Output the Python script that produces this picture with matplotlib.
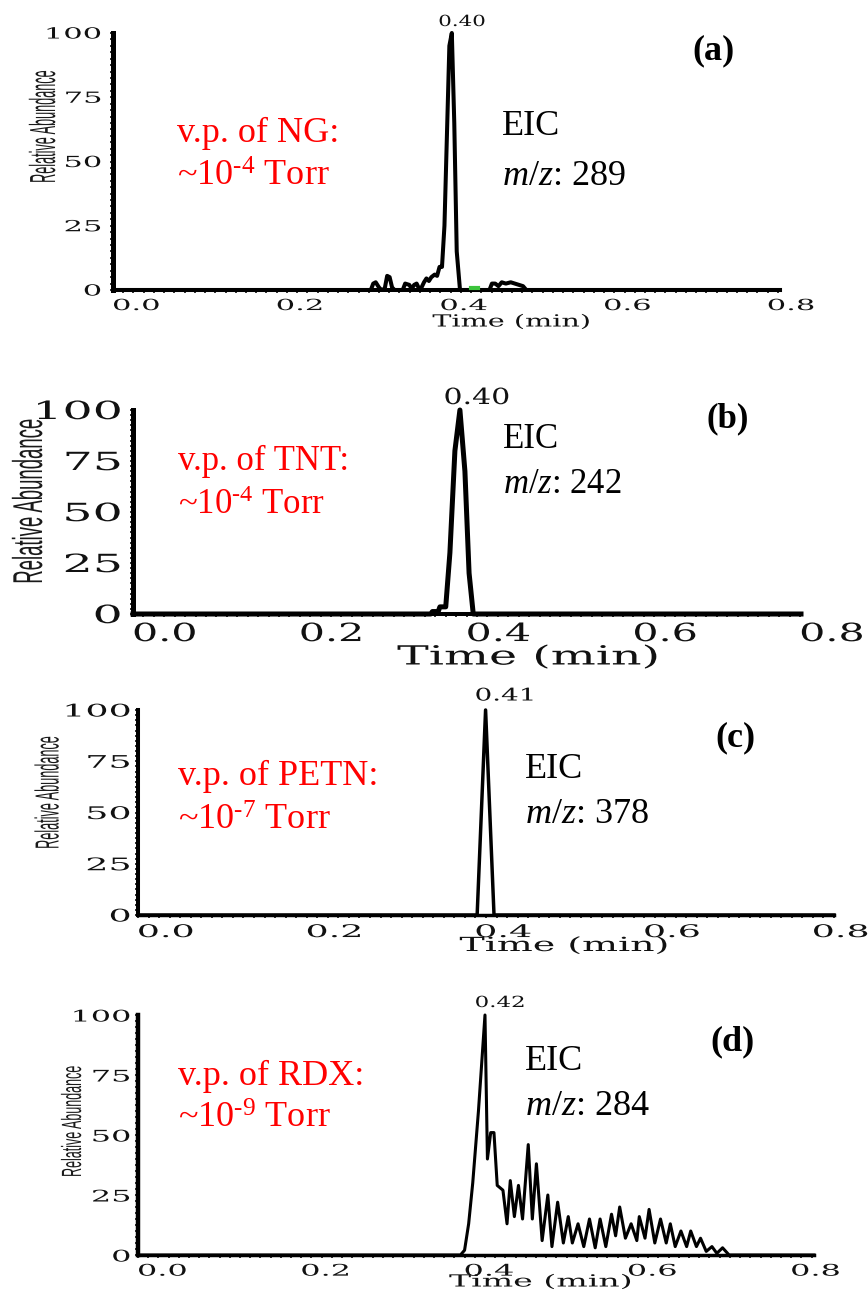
import matplotlib
matplotlib.use("Agg")
import matplotlib.pyplot as plt
import matplotlib.patheffects as pe
from matplotlib.transforms import Affine2D
from matplotlib.ticker import MultipleLocator

plt.rcParams["mathtext.fontset"] = "custom"
plt.rcParams["mathtext.rm"] = "Liberation Serif"
plt.rcParams["mathtext.it"] = "Liberation Serif:italic"

W, H = 868, 1291

# ==========================================================
# DATA
# ==========================================================
time_ticks = [0.0, 0.2, 0.4, 0.6, 0.8]
abund_ticks = [0, 25, 50, 75, 100]

ng_time = [0.0, 0.315, 0.318, 0.321, 0.325, 0.328, 0.332, 0.335, 0.338, 0.341,
           0.344, 0.354, 0.357, 0.362, 0.365, 0.368, 0.371, 0.374, 0.377, 0.380,
           0.383, 0.386, 0.389, 0.393, 0.396, 0.399, 0.402, 0.405, 0.408, 0.411,
           0.414, 0.417, 0.420, 0.424, 0.460, 0.463, 0.467, 0.471, 0.475, 0.480,
           0.486, 0.491, 0.496, 0.501, 0.505, 0.815]
ng_abund = [0, 0, 2.5, 3, 1, 0, 0.5, 5.5, 5, 1,
            0, 0, 2.5, 2, 0.5, 2, 2.5, 0.5, 1, 3,
            4.5, 3.5, 5, 6, 5.5, 9, 9, 25, 60, 95,
            100, 65, 15, 0, 0, 2.5, 2.5, 1.5, 3, 2.5,
            3, 2.5, 2, 1.5, 0, 0]
ng_green_time = [0.437, 0.446]
ng_green_abund = [0.8, 0.8]

tnt_time = [0.0, 0.357, 0.359, 0.366, 0.368, 0.375, 0.380, 0.386, 0.392, 0.398,
            0.403, 0.408, 0.801]
tnt_abund = [0, 0, 1.2, 1.2, 3.5, 3.5, 30, 80, 100, 70, 20, 0, 0]

petn_time = [0.0, 0.402, 0.412, 0.422, 0.825]
petn_abund = [0, 0, 100, 0, 0]

rdx_time = [0.0, 0.395, 0.400, 0.405, 0.410, 0.417, 0.425, 0.428, 0.432, 0.436,
            0.440, 0.447, 0.452, 0.456, 0.461, 0.466, 0.471, 0.478, 0.483, 0.488,
            0.495, 0.502, 0.507, 0.514, 0.521, 0.527, 0.532, 0.539, 0.546, 0.553,
            0.560, 0.566, 0.573, 0.580, 0.585, 0.590, 0.597, 0.604, 0.611, 0.614,
            0.621, 0.626, 0.633, 0.640, 0.647, 0.652, 0.658, 0.665, 0.672, 0.677,
            0.684, 0.689, 0.696, 0.703, 0.709, 0.716, 0.724, 0.828]
rdx_abund = [0, 0, 2, 13, 30, 60, 100, 40, 51, 51,
             29, 27, 13, 31, 16, 29, 15, 46, 15, 38,
             6, 25, 3.5, 22, 5, 16, 5, 13, 3.5, 15,
             3, 15, 3.5, 17, 8, 20, 7, 13, 6, 16,
             7, 19, 5, 15, 5, 13, 3.5, 10, 3.5, 10,
             3.5, 7, 1.5, 3.5, 0.7, 3, 0, 0]

compounds = ["NG", "TNT", "PETN", "RDX"]
vp_exponents = ["-4", "-4", "-7", "-9"]
mz_values = [289, 242, 378, 284]
apex_labels = ["0.40", "0.40", "0.41", "0.42"]
panel_tags = ["(a)", "(b)", "(c)", "(d)"]
traces = [(ng_time, ng_abund), (tnt_time, tnt_abund),
          (petn_time, petn_abund), (rdx_time, rdx_abund)]

# ==========================================================
# LAYOUT (pixel positions in the 868x1291 canvas)
# ==========================================================
layout = [
    dict(box=(113, 780, 33, 290), xmax=0.815, lw=2.9, lspine=3.6, bspine=2.9,
         ytick_fs=11, ytick_sx=2.0, xtick_fs=11, xtick_sx=2.0,
         ypad=6, xpad=4,
         time_xy=(511, 322), time_fs=12, time_sx=1.72,
         ylab_xy=(44, 127), ylab_fs=18, ylab_sx=1.45, ylab_sy=0.506,
         apex_xy=(462, 22), apex_fs=11, apex_sx=1.4,
         txt_fs=26,
         eic_xy=(502, 135), mz_xy=(502, 185), vp_xy=(177, 142), torr_xy=(177, 186),
         tag_xy=(713, 51)),
    dict(box=(133, 801, 410, 614), xmax=0.801, lw=3.6, lspine=3.6, bspine=2.9,
         ytick_fs=18, ytick_sx=1.9, xtick_fs=18, xtick_sx=1.65,
         ypad=6, xpad=4,
         time_xy=(528, 657), time_fs=19, time_sx=1.8,
         ylab_xy=(31, 502), ylab_fs=30, ylab_sx=1.0, ylab_sy=0.445,
         apex_xy=(477, 398), apex_fs=16, apex_sx=1.35,
         txt_fs=25,
         eic_xy=(503, 448), mz_xy=(503, 493), vp_xy=(178, 470), torr_xy=(178, 514),
         tag_xy=(728, 419)),
    dict(box=(138, 834, 710, 915), xmax=0.825, lw=2.5, lspine=2.9, bspine=2.5,
         ytick_fs=12.5, ytick_sx=2.1, xtick_fs=12.5, xtick_sx=2.1,
         ypad=3, xpad=4,
         time_xy=(564, 946), time_fs=14, time_sx=1.95,
         ylab_xy=(50, 793), ylab_fs=24, ylab_sx=1.0, ylab_sy=0.38,
         apex_xy=(505, 696), apex_fs=12.5, apex_sx=1.6,
         txt_fs=26,
         eic_xy=(525, 778), mz_xy=(525, 823), vp_xy=(178, 785), torr_xy=(178, 830),
         tag_xy=(735, 738)),
    dict(box=(138, 814, 1015, 1255), xmax=0.828, lw=2.2, lspine=3.2, bspine=2.5,
         ytick_fs=11.5, ytick_sx=2.0, xtick_fs=11.5, xtick_sx=2.0,
         ypad=3, xpad=3,
         time_xy=(540, 1282), time_fs=12, time_sx=1.99,
         ylab_xy=(74, 1122), ylab_fs=20, ylab_sx=1.0, ylab_sy=0.45,
         apex_xy=(500, 1003), apex_fs=11, apex_sx=1.5,
         txt_fs=26,
         eic_xy=(525, 1070), mz_xy=(525, 1115), vp_xy=(178, 1085), torr_xy=(178, 1128),
         tag_xy=(733, 1042)),
]


class Stretch(pe.AbstractPathEffect):
    """Widen or squeeze the glyphs of a text (the software font is extended)."""

    def __init__(self, sx=1.0, sy=1.0, anchor="center"):
        super().__init__()
        self.sx, self.sy, self.anchor = sx, sy, anchor

    def draw_path(self, renderer, gc, tpath, affine, rgbFace=None):
        ext = tpath.get_extents(affine)
        if self.anchor == "left":
            cx = ext.x0
        elif self.anchor == "right":
            cx = ext.x1
        else:
            cx = 0.5 * (ext.x0 + ext.x1)
        cy = 0.5 * (ext.y0 + ext.y1)
        st = Affine2D().translate(-cx, -cy).scale(self.sx, self.sy).translate(cx, cy)
        renderer.draw_path(gc, tpath, affine + st, rgbFace)


def fxy(px, py):
    return px / W, 1 - py / H


fig = plt.figure(figsize=(W / 100, H / 100), dpi=100)
fig.patch.set_facecolor("white")

serif_tick = "DejaVu Serif"
times = "Liberation Serif"

for i, lay in enumerate(layout):
    L, R, T, B = lay["box"]
    ax = fig.add_axes([L / W, 1 - B / H, (R - L) / W, (B - T) / H])
    t, a = traces[i]
    ax.plot(t, a, color="black", lw=lay["lw"], clip_on=False, zorder=3)
    if i == 0:
        ax.plot(ng_green_time, ng_green_abund, color="#3cc43c", lw=3,
                clip_on=False, zorder=4)

    ax.set_xlim(0, lay["xmax"])
    ax.set_ylim(0, 100)
    ax.patch.set_alpha(0)
    for s in ["top", "right"]:
        ax.spines[s].set_visible(False)
    ax.spines["left"].set_linewidth(lay["lspine"])
    ax.spines["bottom"].set_linewidth(lay["bspine"])
    ax.spines["left"].set_capstyle("projecting")
    ax.spines["bottom"].set_capstyle("projecting")

    ax.set_xticks(time_ticks)
    ax.set_xticklabels([f"{v:.1f}" for v in time_ticks], ha="left",
                       family=serif_tick, fontsize=lay["xtick_fs"])
    ax.set_yticks(abund_ticks)
    ax.set_yticklabels([str(v) for v in abund_ticks],
                       family=serif_tick, fontsize=lay["ytick_fs"])
    ax.xaxis.set_minor_locator(MultipleLocator(0.0125))
    ax.yaxis.set_minor_locator(MultipleLocator(2.5))
    ax.tick_params(which="both", direction="out", length=2.5, width=1.3,
                   color="#222222", labelcolor="#111111")
    ax.tick_params(axis="x", which="major", pad=lay["xpad"])
    ax.tick_params(axis="y", which="major", pad=lay["ypad"])
    for lab in ax.get_xticklabels():
        lab.set_path_effects([Stretch(lay["xtick_sx"], 1, "left")])
    for lab in ax.get_yticklabels():
        lab.set_path_effects([Stretch(lay["ytick_sx"], 1, "right")])

    # axis titles
    fig.text(*fxy(*lay["time_xy"]), "Time (min)", ha="center", va="center",
             family=serif_tick, fontsize=lay["time_fs"], color="#111111",
             path_effects=[Stretch(lay["time_sx"], 1, "center")])
    fig.text(*fxy(*lay["ylab_xy"]), "Relative Abundance", rotation=90,
             ha="center", va="center", family="Liberation Sans",
             fontsize=lay["ylab_fs"], color="#1a1a1a",
             path_effects=[Stretch(lay["ylab_sx"], lay["ylab_sy"], "center")])

    # apex retention time
    fig.text(*fxy(*lay["apex_xy"]), apex_labels[i], ha="center", va="center",
             family=serif_tick, fontsize=lay["apex_fs"], color="#111111",
             path_effects=[Stretch(lay["apex_sx"], 1, "center")])

    # annotations
    fs = lay["txt_fs"]
    fig.text(*fxy(*lay["eic_xy"]), "EIC", ha="left", va="baseline",
             family=times, fontsize=fs, color="black")
    fig.text(*fxy(*lay["mz_xy"]), r"$\mathit{m/z}$: " + str(mz_values[i]),
             ha="left", va="baseline", family=times, fontsize=fs, color="black")
    fig.text(*fxy(*lay["vp_xy"]), f"v.p. of {compounds[i]}:", ha="left",
             va="baseline", family=times, fontsize=fs, color="#ff0000")
    fig.text(*fxy(*lay["torr_xy"]),
             r"~10$^{\text{" + vp_exponents[i] + r"}}$ Torr", ha="left",
             va="baseline", family=times, fontsize=fs, color="#ff0000")
    fig.text(*fxy(*lay["tag_xy"]), panel_tags[i], ha="center", va="center",
             family=times, fontsize=fs, fontweight="bold", color="black")

fig.savefig("out.png", dpi=100, facecolor="white")
